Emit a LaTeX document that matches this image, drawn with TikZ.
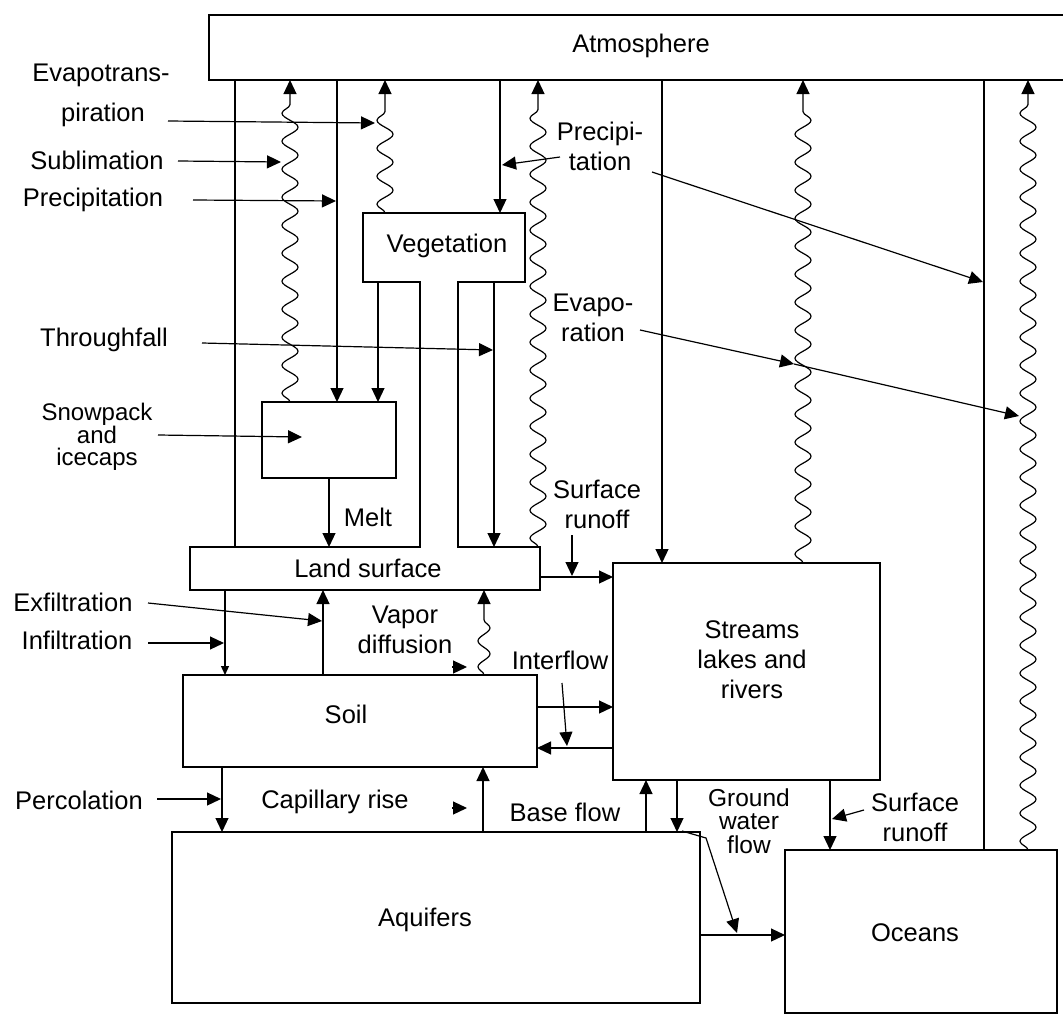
\documentclass[tikz,border=0pt]{standalone}
\usepackage{fontspec}
\setmainfont{Liberation Sans}
\usetikzlibrary{arrows.meta,decorations.pathmorphing}
\begin{document}
\begin{tikzpicture}[x=1pt,y=-1pt,line width=1.2pt,
  box/.style={draw,rectangle,inner sep=0pt,outer sep=0pt,anchor=north west},
  area/.style={rectangle,inner sep=0pt,outer sep=0pt,anchor=north west},
  lbl/.style={font=\fontsize{25.5}{30}\selectfont,inner sep=0pt,align=center},
  tightlbl/.style={font=\fontsize{24}{22.5}\selectfont,inner sep=0pt,align=center},
  gwlbl/.style={font=\fontsize{24.5}{23.5}\selectfont,inner sep=0pt,align=center},
  arr/.style={-{Triangle[length=14pt,width=13pt]}},
  sarr/.style={-{Triangle[length=9pt,width=8pt]}},
  wavy/.style={decorate,decoration={snake,amplitude=8pt,segment length=28pt,post length=24pt}},
  wavyshort/.style={decorate,decoration={snake,amplitude=6pt,segment length=26pt,post length=18pt}},
]
\useasboundingbox (0,0) rectangle (1063,1017);
% ---------- boxes ----------
\node[box,minimum width=880pt,minimum height=65pt] (atm) at (209,15) {};
\node[area,minimum width=162pt,minimum height=69pt] (veg) at (363,213) {};
\node[box,minimum width=134pt,minimum height=76pt] (snow) at (262,402) {};
\node[area,minimum width=350pt,minimum height=43pt] (land) at (190,547) {};
\node[box,minimum width=267pt,minimum height=217pt] (str) at (613,563) {};
\node[box,minimum width=354pt,minimum height=92pt] (soil) at (183,675) {};
\node[box,minimum width=528pt,minimum height=171pt] (aq) at (172,832) {};
\node[box,minimum width=272pt,minimum height=163pt] (oc) at (785,850) {};
% ---------- column / row coordinates ----------
\coordinate (cA1) at (235,0);
\coordinate (cW1) at (290,0);
\coordinate (cP1) at (337,0);
\coordinate (cVS) at (378,0);
\coordinate (cW2) at (385,0);
\coordinate (cTL) at (420,0);
\coordinate (cTR) at (458,0);
\coordinate (cTF) at (494,0);
\coordinate (cP2) at (500,0);
\coordinate (cW3) at (538,0);
\coordinate (cP3) at (662,0);
\coordinate (cW4) at (803,0);
\coordinate (cP4) at (984,0);
\coordinate (cW5) at (1028,0);
\coordinate (cMelt) at (329,0);
\coordinate (cInf) at (225,0);
\coordinate (cExf) at (323,0);
\coordinate (cVap) at (484,0);
\coordinate (cPerc) at (222,0);
\coordinate (cCap) at (483,0);
\coordinate (cBase) at (646,0);
\coordinate (cGW) at (677,0);
\coordinate (cSR) at (830,0);
\coordinate (rLS) at (0,577);
\coordinate (rSS) at (0,707);
\coordinate (rSt) at (0,748);
\coordinate (rAO) at (0,935);
% ---------- vegetation + land surface outline ----------
\draw (veg.south west) -- (veg.north west) -- (veg.north east) -- (veg.south east)
  -- (veg.south -| cTR) -- (land.north -| cTR) -- (land.north east) -- (land.south east)
  -- (land.south west) -- (land.north west) -- (land.north -| cTL) -- (veg.south -| cTL) -- cycle;
% ---------- box texts ----------
\node[lbl] (tAtm) at (641,46) {Atmosphere};
\node[lbl] (tVeg) at (447,246) {Vegetation};
\node[lbl] (tLand) at (368,568) {Land surface};
\node[lbl] (tStr) at (752,660) {Streams\\lakes and\\rivers};
\node[lbl] (tSoil) at (346,714) {Soil};
\node[lbl] (tAq) at (425,920) {Aquifers};
\node[lbl] (tOc) at (915,933) {Oceans};
% ---------- labels ----------
\node[lbl] (tEvt1) at (101,75) {Evapotrans-};
\node[lbl] (tEvt2) at (103,115) {piration};
\node[lbl] (tSub) at (97,160) {Sublimation};
\node[lbl] (tPre) at (93,200) {Precipitation};
\node[lbl] (tThr) at (104,340) {Throughfall};
\node[tightlbl] (tSnow) at (97,437) {Snowpack\\and\\icecaps};
\node[lbl] (tExf) at (73,602) {Exfiltration};
\node[lbl] (tInf) at (77,640) {Infiltration};
\node[lbl] (tPerc) at (79,800) {Percolation};
\node[lbl] (tPre2) at (600,146) {Precipi-\\tation};
\node[lbl] (tEva) at (593,318) {Evapo-\\ration};
\node[lbl] (tSR1) at (597,504) {Surface\\runoff};
\node[lbl] (tMelt) at (368,517) {Melt};
\node[lbl] (tVap) at (405,630) {Vapor\\diffusion};
\node[lbl] (tInt) at (560,660) {Interflow};
\node[lbl] (tCap) at (335,802) {Capillary rise};
\node[lbl] (tBase) at (565,812) {Base flow};
\node[gwlbl] (tGW) at (749,821) {Ground\\water\\flow};
\node[lbl] (tSR2) at (915,817) {Surface\\runoff};
% ---------- atmosphere connections ----------
\draw (atm.south -| cA1) -- (land.north -| cA1);
\draw[wavy,arr] (snow.north -| cW1) -- (atm.south -| cW1);
\draw[arr] (atm.south -| cP1) -- (snow.north -| cP1);
\draw[wavy,arr] (veg.north -| cW2) -- (atm.south -| cW2);
\draw[arr] (atm.south -| cP2) -- (veg.north -| cP2);
\draw[wavy,arr] (land.north -| cW3) -- (atm.south -| cW3);
\draw[arr] (atm.south -| cP3) -- (str.north -| cP3);
\draw[wavy,arr] (str.north -| cW4) -- (atm.south -| cW4);
\draw (atm.south -| cP4) -- (oc.north -| cP4);
\draw[wavy,arr] (oc.north -| cW5) -- (atm.south -| cW5);
% ---------- vegetation / snow / land ----------
\draw[arr] (veg.south -| cVS) -- (snow.north -| cVS);
\draw[arr] (veg.south -| cTF) -- (land.north -| cTF);
\draw[arr] (snow.south -| cMelt) -- (land.north -| cMelt);
% ---------- land / soil ----------
\draw[sarr] (land.south -| cInf) -- (soil.north -| cInf);
\draw[arr] (soil.north -| cExf) -- (land.south -| cExf);
\draw[wavyshort,arr] (soil.north -| cVap) -- (land.south -| cVap);
% ---------- soil / aquifers / streams / oceans ----------
\draw[arr] (soil.south -| cPerc) -- (aq.north -| cPerc);
\draw[arr] (aq.north -| cCap) -- (soil.south -| cCap);
\draw[arr] (aq.north -| cBase) -- (str.south -| cBase);
\draw[arr] (str.south -| cGW) -- (aq.north -| cGW);
\draw[arr] (str.south -| cSR) -- (oc.north -| cSR);
\draw[arr] (land.east |- rLS) -- (str.west |- rLS);
\draw[arr] (soil.east |- rSS) -- (str.west |- rSS);
\draw[arr] (str.west |- rSt) -- (soil.east |- rSt);
\draw[arr] (aq.east |- rAO) -- (oc.west |- rAO);
% ---------- label pointers ----------
\coordinate (pEvtA) at (168,121); \coordinate (pEvtB) at (375,123);
\coordinate (pSubA) at (178,161); \coordinate (pSubB) at (281,162);
\coordinate (pPreA) at (193,200); \coordinate (pPreB) at (336,201);
\coordinate (pThrA) at (202,343); \coordinate (pThrB) at (493,350);
\coordinate (pSnoA) at (158,435); \coordinate (pSnoB) at (302,437);
\coordinate (pP2A) at (560,157);  \coordinate (pP2B) at (502,165);
\coordinate (pP3A) at (652,172);  \coordinate (pP3B) at (983,282);
\coordinate (pEvA) at (640,330);  \coordinate (pEvB) at (794,364); \coordinate (pEvC) at (1019,416);
\coordinate (pExfA) at (148,603); \coordinate (pExfB) at (322,621);
\coordinate (pInfA) at (148,643); \coordinate (pInfB) at (224,643);
\coordinate (pVapA) at (452,667); \coordinate (pVapB) at (467,667);
\coordinate (pIntA) at (562,683); \coordinate (pIntB) at (567,746);
\coordinate (pPerA) at (157,799); \coordinate (pPerB) at (221,799);
\coordinate (pCapA) at (452,808); \coordinate (pCapB) at (467,808);
\coordinate (pGWA) at (682,831);  \coordinate (pGWM) at (706,838); \coordinate (pGWB) at (737,933);
\coordinate (pSR2A) at (864,810); \coordinate (pSR2B) at (832,819);
\coordinate (pSR1A) at (572,535); \coordinate (pSR1B) at (572,576);
\draw[arr] (pEvtA) -- (pEvtB);
\draw[arr] (pSubA) -- (pSubB);
\draw[arr] (pPreA) -- (pPreB);
\draw[arr] (pThrA) -- (pThrB);
\draw[arr] (pSnoA) -- (pSnoB);
\draw[arr] (pP2A) -- (pP2B);
\draw[arr] (pP3A) -- (pP3B);
\draw[arr] (pEvA) -- (pEvB);
\draw[arr] (pEvB) -- (pEvC);
\draw[arr] (pExfA) -- (pExfB);
\draw[arr] (pInfA) -- (pInfB);
\draw[arr] (pVapA) -- (pVapB);
\draw[arr] (pIntA) -- (pIntB);
\draw[arr] (pPerA) -- (pPerB);
\draw[arr] (pCapA) -- (pCapB);
\draw[arr] (pGWA) -- (pGWM) -- (pGWB);
\draw[arr] (pSR2A) -- (pSR2B);
\draw[arr] (pSR1A) -- (pSR1B);
\end{tikzpicture}
\end{document}
